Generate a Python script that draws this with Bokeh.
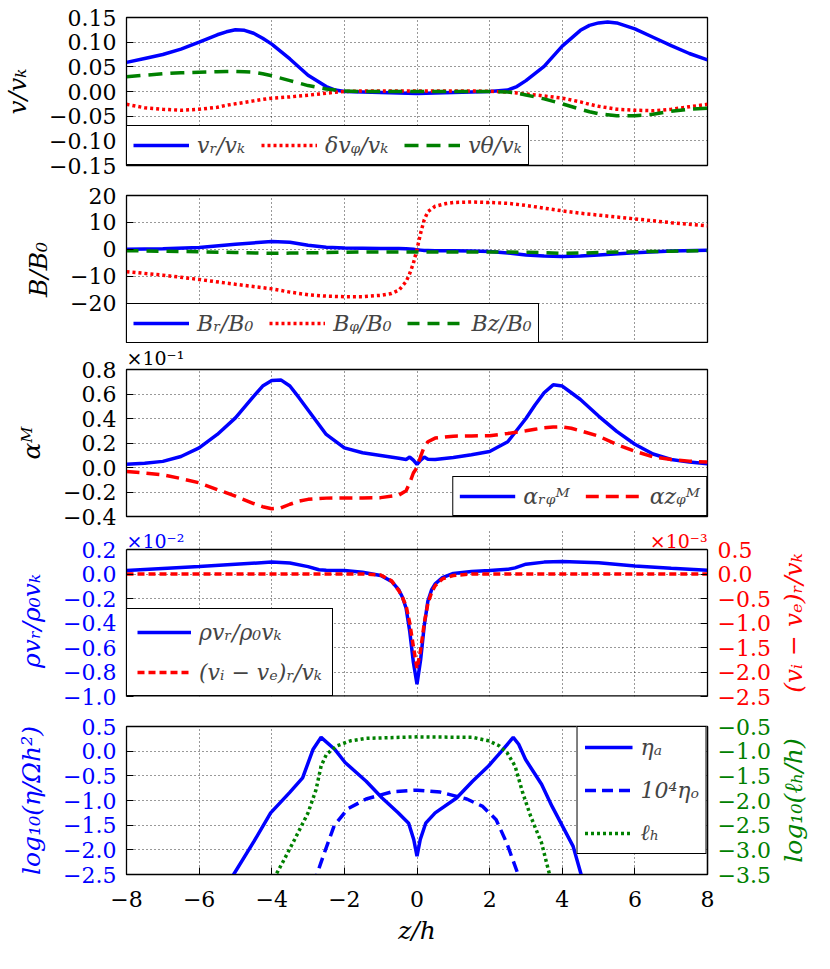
from bokeh.plotting import figure
from bokeh.models import (Range1d, LinearAxis, FixedTicker, CustomJSTickFormatter,
                          Legend, LegendItem, Label, Span)
from bokeh.layouts import column
from bokeh.embed import file_html
from bokeh.resources import INLINE

FONT = "DejaVu Serif"
BLUE, RED, GREEN = "#0000ff", "#ff0000", "#008000"
TICK_FS, LABEL_FS, LEG_FS, MULT_FS = "22px", "25px", "22px", "19px"

x_ticks = [-8, -6, -4, -2, 0, 2, 4, 6, 8]

# ---------------- panel 1: velocities ----------------
x1 = [-8, -7.5, -7, -6.5, -6, -5.5, -5.25, -5, -4.75, -4.5, -4.25, -4, -3.5, -3, -2.5, -2.25,
      -2, -1.5, -1, -0.5, 0, 0.5, 1, 1.5, 2, 2.5, 2.75, 3, 3.5, 4, 4.5, 4.75, 5, 5.25, 5.5,
      6, 6.5, 7, 7.5, 8]
vR = [0.059, 0.067, 0.075, 0.086, 0.100, 0.115, 0.121, 0.125, 0.124, 0.118, 0.108, 0.096,
      0.066, 0.033, 0.010, 0.003, 0.000, -0.001, -0.002, -0.003, -0.004, -0.003, -0.002,
      -0.001, 0.000, 0.003, 0.010, 0.022, 0.051, 0.092, 0.124, 0.134, 0.139, 0.141, 0.139,
      0.127, 0.110, 0.093, 0.077, 0.064]
dvphi = [-0.026, -0.033, -0.036, -0.038, -0.036, -0.032, -0.028, -0.025, -0.022, -0.019,
         -0.016, -0.0135, -0.011, -0.0075, -0.0035, -0.0015, 0.0, 0.001, 0.001, 0.001, 0.001,
         0.001, 0.001, 0.001, 0.0005, -0.001, -0.003, -0.005, -0.009, -0.0135, -0.021, -0.026,
         -0.030, -0.033, -0.036, -0.038, -0.039, -0.036, -0.031, -0.026]
vtheta = [0.030, 0.033, 0.036, 0.038, 0.039, 0.040, 0.0405, 0.0405, 0.040, 0.039, 0.036,
          0.032, 0.022, 0.012, 0.005, 0.003, 0.001, 0.0, 0.0, 0.0, 0.0, 0.0, 0.0, 0.0, 0.0,
          -0.001, -0.003, -0.007, -0.015, -0.025, -0.036, -0.041, -0.045, -0.047, -0.049,
          -0.049, -0.046, -0.040, -0.036, -0.034]

# ---------------- panel 2: magnetic field ----------------
x2 = [-8, -7, -6, -5, -4, -3.5, -3, -2.5, -2, -1.5, -1, -0.7, -0.5, -0.3, -0.2, -0.1, 0,
      0.1, 0.2, 0.3, 0.5, 0.8, 1, 1.5, 2, 2.5, 3, 3.5, 4, 4.5, 5, 6, 7, 8]
Br = [0.0, 0.2, 0.7, 1.9, 2.9, 2.6, 1.5, 0.8, 0.5, 0.4, 0.3, 0.3, 0.3, 0.2, 0.1, 0.0, -0.2,
      -0.3, -0.4, -0.4, -0.5, -0.5, -0.5, -0.6, -0.8, -1.4, -2.1, -2.5, -2.7, -2.5, -2.1,
      -1.3, -0.6, -0.3]
Bphi = [-8.3, -9.6, -11.2, -13.0, -14.7, -15.9, -16.9, -17.4, -17.6, -17.6, -17.1, -16.4,
        -15.2, -12.0, -9.0, -5.2, 0.0, 6.0, 11.0, 14.0, 16.0, 17.0, 17.4, 17.6, 17.4, 17.1,
        16.3, 15.3, 14.3, 13.4, 12.7, 11.3, 9.9, 8.7]
Bz = [-0.5, -0.7, -0.9, -1.2, -1.5, -1.4, -1.3, -1.2, -1.1, -1.0, -1.0, -1.0, -1.0, -1.0,
      -1.0, -1.0, -1.0, -1.0, -1.0, -1.0, -1.0, -1.0, -1.0, -1.0, -1.0, -1.0, -1.1, -1.2,
      -1.5, -1.4, -1.2, -0.9, -0.7, -0.5]

# ---------------- panel 3: alpha (x 1e-1) ----------------
x3 = [-8, -7.5, -7, -6.5, -6, -5.5, -5, -4.5, -4.25, -4, -3.75, -3.5, -3.25, -3, -2.5, -2,
      -1.5, -1, -0.5, -0.3, -0.2, -0.1, 0, 0.1, 0.2, 0.3, 0.5, 1, 1.5, 2, 2.5, 3, 3.25, 3.5,
      3.75, 4, 4.25, 4.5, 5, 5.5, 6, 6.5, 7, 7.5, 8]
alpha_rphi = [0.027, 0.035, 0.050, 0.090, 0.16, 0.27, 0.405, 0.58, 0.665, 0.71, 0.715, 0.665,
              0.57, 0.47, 0.27, 0.16, 0.12, 0.098, 0.076, 0.066, 0.085, 0.06, 0.025, 0.06,
              0.085, 0.068, 0.066, 0.082, 0.104, 0.13, 0.21, 0.40, 0.51, 0.61, 0.675, 0.665,
              0.61, 0.555, 0.42, 0.295, 0.19, 0.11, 0.065, 0.044, 0.03]
alpha_zphi = [-0.033, -0.045, -0.06, -0.09, -0.125, -0.18, -0.234, -0.294, -0.32, -0.337,
              -0.33, -0.30, -0.275, -0.26, -0.25, -0.248, -0.248, -0.246, -0.225, -0.19,
              -0.125, -0.045, 0.0, 0.09, 0.17, 0.21, 0.24, 0.256, 0.258, 0.26, 0.278, 0.30,
              0.312, 0.324, 0.33, 0.332, 0.32, 0.30, 0.256, 0.188, 0.133, 0.087, 0.065, 0.052,
              0.044]

# ---------------- panel 4: mass flux (x 1e-2) and drift (x 1e-3) ----------------
x4 = [-8, -7, -6, -5, -4, -3.5, -3, -2.7, -2.5, -2, -1.5, -1, -0.7, -0.5, -0.4, -0.3, -0.2,
      -0.1, 0, 0.1, 0.2, 0.3, 0.4, 0.5, 0.7, 1, 1.5, 2, 2.5, 2.7, 3, 3.5, 4, 5, 6, 7, 8]
rho_vR = [0.028, 0.045, 0.062, 0.080, 0.097, 0.090, 0.060, 0.035, 0.030, 0.028, 0.015,
          -0.012, -0.06, -0.13, -0.19, -0.28, -0.47, -0.72, -0.90, -0.70, -0.42, -0.22,
          -0.13, -0.08, -0.03, 0.005, 0.020, 0.028, 0.038, 0.050, 0.080, 0.097, 0.102,
          0.091, 0.065, 0.047, 0.030]
v_drift = [0.0, 0.0, 0.0, 0.0, 0.0, 0.0, 0.0, 0.0, 0.0, 0.0, 0.0, -0.02, -0.14, -0.34,
           -0.48, -0.65, -1.0, -1.48, -1.93, -1.55, -1.0, -0.6, -0.38, -0.24, -0.1, -0.03,
           0.0, 0.0, 0.0, 0.0, 0.0, 0.0, 0.0, 0.0, 0.0, 0.0, 0.0]

# ---------------- panel 5: diffusivities ----------------
xA = [-5.3, -5.05, -4.49, -4.03, -3.51, -3.15, -2.86, -2.64, -2.27, -1.98, -1.40, -0.96,
      -0.52, -0.23, -0.09, 0.0, 0.09, 0.24, 0.50, 1.09, 1.53, 1.97, 2.33, 2.65, 2.80, 2.99,
      3.43, 3.72, 4.30, 4.52, 4.7]
etaA = [-2.9, -2.5, -1.83, -1.25, -0.84, -0.54, 0.04, 0.28, 0.04, -0.23, -0.61, -0.95,
        -1.25, -1.46, -1.79, -2.13, -1.79, -1.46, -1.25, -0.95, -0.61, -0.30, 0.0, 0.28,
        0.14, -0.17, -0.67, -1.12, -1.93, -2.5, -3.0]
xO = [-2.85, -2.78, -2.57, -2.28, -1.91, -1.4, -0.67, 0.0, 0.64, 1.37, 1.81, 2.18, 2.47,
      2.77, 2.85]
etaO = [-2.7, -2.55, -2.1, -1.51, -1.17, -0.97, -0.82, -0.79, -0.83, -0.97, -1.12, -1.39,
        -1.86, -2.47, -2.7]
xH = [-4.0, -3.88, -3.66, -3.37, -3.0, -2.78, -2.64, -2.49, -2.2, -1.83, -1.40, 0.0, 1.53,
      1.97, 2.26, 2.48, 2.70, 2.91, 3.13, 3.43, 3.65, 3.75]
ellH = [-3.7, -3.5, -3.2, -2.79, -2.25, -1.78, -1.30, -1.06, -0.89, -0.79, -0.74, -0.71,
        -0.72, -0.79, -0.89, -1.03, -1.30, -1.84, -2.32, -2.86, -3.5, -3.7]


def fmt(dec):
    return CustomJSTickFormatter(code=f"""
        const v = Math.abs(tick) < 1e-9 ? 0 : tick;
        const s = Math.abs(v).toFixed({dec});
        return (v < 0 ? '\\u2212' : '') + s;
    """)


def style_axis(ax, color="black"):
    ax.major_tick_in = 7
    ax.major_tick_out = 0
    ax.minor_tick_in = 0
    ax.minor_tick_out = 0
    ax.axis_line_color = "black"
    ax.major_tick_line_color = "black"
    ax.major_label_text_font = FONT
    ax.major_label_text_font_size = TICK_FS
    ax.major_label_text_color = color
    ax.major_label_standoff = 10
    ax.axis_label_text_font = FONT
    ax.axis_label_text_font_size = LABEL_FS
    ax.axis_label_text_font_style = "italic"
    ax.axis_label_text_color = color
    ax.axis_label_standoff = 14


def make_panel(yr, y_ticks, dec, fh, top, bottom, ylabel, ycolor="black", last=False):
    p = figure(frame_width=581, frame_height=fh, x_range=Range1d(-8, 8),
               y_range=Range1d(*yr), output_backend="svg", toolbar_location=None,
               min_border_left=124, min_border_right=109, min_border_top=top,
               min_border_bottom=bottom)
    p.title.visible = False
    p.outline_line_color = "black"
    p.outline_line_width = 1.3
    p.xaxis.ticker = FixedTicker(ticks=x_ticks)
    p.yaxis.ticker = FixedTicker(ticks=y_ticks)
    p.xgrid.ticker = FixedTicker(ticks=x_ticks)
    p.ygrid.ticker = FixedTicker(ticks=y_ticks)
    p.xaxis.formatter = fmt(0)
    p.yaxis.formatter = fmt(dec)
    for ax in p.xaxis:
        style_axis(ax)
    for ax in p.yaxis:
        style_axis(ax, ycolor)
    p.yaxis.axis_label = ylabel
    p.grid.grid_line_color = "black"
    p.grid.grid_line_dash = "1 3"
    p.grid.grid_line_alpha = 0.8
    p.grid.grid_line_width = 1
    if last:
        p.xaxis.axis_label = "z/h"
        p.xaxis.major_label_standoff = 16
        p.xaxis.axis_label_standoff = 6
    else:
        p.xaxis.visible = False
    return p


def add_legend(p, items, location, orientation, spacing=10, padding=6, glyph_width=56):
    lg = Legend(items=[LegendItem(label=l, renderers=[r]) for l, r in items],
                location=location, orientation=orientation, margin=0, padding=padding,
                spacing=spacing, label_standoff=8, glyph_width=glyph_width, glyph_height=26,
                border_line_color="black", border_line_width=1.2, border_line_alpha=1,
                background_fill_color="white", background_fill_alpha=1,
                label_text_font=FONT, label_text_font_size=LEG_FS,
                label_text_font_style="italic")
    p.add_layout(lg)


def right_axis(p, rng, ticks, color, bounds):
    p.extra_y_ranges = {"r": Range1d(*rng)}
    ax = LinearAxis(y_range_name="r", ticker=FixedTicker(ticks=ticks), formatter=fmt(1),
                    bounds=bounds)
    style_axis(ax, color)
    ax.axis_line_width = 1.3
    p.add_layout(ax, "right")


def right_label(p, text, color, ymid):
    # placed in the right side panel so that it is not clipped to the frame
    p.add_layout(Label(x=8, y=ymid, x_units="data", y_units="data", x_offset=86, text=text,
                       angle=90, angle_units="deg", text_font=FONT,
                       text_font_size=LABEL_FS, text_font_style="italic",
                       text_align="center", text_baseline="middle", text_color=color),
                 "right")


LW = 3.5

# panel 1
p1 = make_panel((-0.15, 0.15), [-0.15, -0.10, -0.05, 0.0, 0.05, 0.10, 0.15], 2, 148, 17, 14,
                "v/vₖ")
r1a = p1.line(x1, vR, line_color=BLUE, line_width=LW)
r1b = p1.line(x1, dvphi, line_color=RED, line_width=LW, line_dash="3 3")
r1c = p1.line(x1, vtheta, line_color=GREEN, line_width=LW, line_dash="14 8")
add_legend(p1, [("vᵣ/vₖ", r1a), ("δvᵩ/vₖ", r1b), ("vθ/vₖ", r1c)], "bottom_left",
           "horizontal", spacing=16)

# panel 2
p2 = make_panel((-35, 20), [-20, -10, 0, 10, 20], 0, 148, 16, 0, "B/B₀")
r2a = p2.line(x2, Br, line_color=BLUE, line_width=LW)
r2b = p2.line(x2, Bphi, line_color=RED, line_width=LW, line_dash="3 3")
r2c = p2.line(x2, Bz, line_color=GREEN, line_width=LW, line_dash="12 8")
add_legend(p2, [("Bᵣ/B₀", r2a), ("Bᵩ/B₀", r2b), ("Bz/B₀", r2c)], "bottom_left",
           "horizontal", spacing=16)

# panel 3
p3 = make_panel((-0.4, 0.8), [-0.4, -0.2, 0.0, 0.2, 0.4, 0.6, 0.8], 1, 147, 26, 13, "αᴹ")
p3.title.visible = True
p3.title.text = "×10⁻¹"
p3.title.align = "left"
p3.title.offset = 0
p3.title.standoff = 2
p3.title.text_font = FONT
p3.title.text_font_size = MULT_FS
p3.title.text_font_style = "normal"
p3.title.text_color = "black"
r3a = p3.line(x3, alpha_rphi, line_color=BLUE, line_width=LW)
r3b = p3.line(x3, alpha_zphi, line_color=RED, line_width=LW, line_dash="13 7")
add_legend(p3, [("αᵣᵩᴹ", r3a), ("αzᵩᴹ", r3b)], "bottom_right", "horizontal", spacing=16)

# panel 4 (frame extended upwards so the multiplier labels sit inside the drawing area)
EXT = 20
p4 = make_panel((-1.0, 0.2 + 1.2 * EXT / 147), [-1.0, -0.8, -0.6, -0.4, -0.2, 0.0, 0.2], 1,
                147 + EXT, 0, 14, "ρvᵣ/ρ₀vₖ\u00a0\u00a0", ycolor=BLUE)
p4.outline_line_color = None
p4.yaxis.bounds = (-1.0, 0.2)
p4.yaxis.axis_line_width = 1.3
p4.xgrid.bounds = (-1.0, 0.2)
p4.add_layout(Span(location=0.2, dimension="width", line_color="black", line_width=1.3))
p4.add_layout(Span(location=-1.0, dimension="width", line_color="black", line_width=2.6))
right_axis(p4, (-2.5, 0.5 + 3.0 * EXT / 147), [-2.5, -2.0, -1.5, -1.0, -0.5, 0.0, 0.5], RED,
           (-2.5, 0.5))
r4a = p4.line(x4, rho_vR, line_color=BLUE, line_width=LW)
r4b = p4.line(x4, v_drift, line_color=RED, line_width=LW, line_dash="7 4", y_range_name="r")
add_legend(p4, [("ρvᵣ/ρ₀vₖ", r4a), ("(vᵢ − vₑ)ᵣ/vₖ", r4b)], "bottom_left", "vertical",
           spacing=14, padding=10, glyph_width=54)
p4.add_layout(Label(x=-8, y=0.2, x_units="data", y_units="data", y_offset=-2, text="×10⁻²",
                    text_font=FONT, text_font_size=MULT_FS, text_align="left",
                    text_baseline="bottom", text_color=BLUE))
p4.add_layout(Label(x=8, y=0.2, x_units="data", y_units="data", y_offset=-2, text="×10⁻³",
                    text_font=FONT, text_font_size=MULT_FS, text_align="right",
                    text_baseline="bottom", text_color=RED))
right_label(p4, "(vᵢ − vₑ)ᵣ/vₖ", RED, -0.4)

# panel 5
p5 = make_panel((-2.5, 0.5), [-2.5, -2.0, -1.5, -1.0, -0.5, 0.0, 0.5], 1, 148, 16, 77,
                "log₁₀(η/Ωh²)", ycolor=BLUE, last=True)
right_axis(p5, (-3.5, -0.5), [-3.5, -3.0, -2.5, -2.0, -1.5, -1.0, -0.5], GREEN, (-3.5, -0.5))
r5a = p5.line(xA, etaA, line_color=BLUE, line_width=LW)
r5b = p5.line(xO, etaO, line_color=BLUE, line_width=LW, line_dash="11 6")
r5c = p5.line(xH, ellH, line_color=GREEN, line_width=LW, line_dash="3 3", y_range_name="r")
add_legend(p5, [("ηₐ", r5a), ("10⁴ηₒ", r5b), ("ℓₕ", r5c)], "top_right", "vertical",
           spacing=17, padding=7, glyph_width=48)
right_label(p5, "log₁₀(ℓₕ/h)", GREEN, -1.0)

layout = column(p1, p2, p3, p4, p5, spacing=0)
open("out.html", "w").write(file_html(layout, INLINE))
